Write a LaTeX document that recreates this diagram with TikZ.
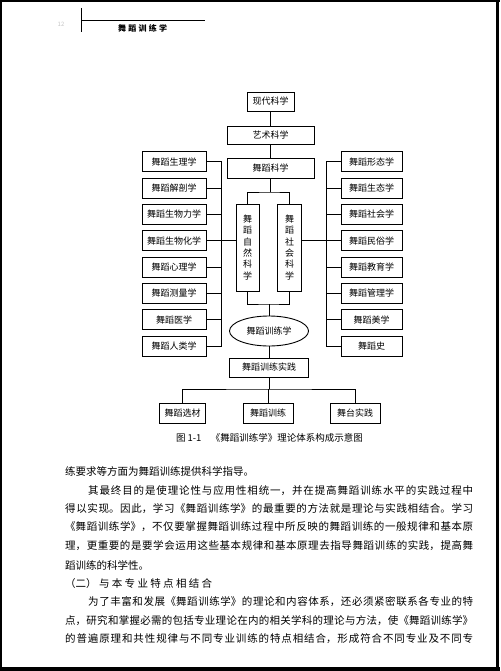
\documentclass[tikz,border=0pt]{standalone}
\usepackage{fontspec}
\setmainfont{Noto Sans CJK SC}
\usetikzlibrary{shapes.geometric}
\XeTeXlinebreaklocale "zh"
\XeTeXlinebreakskip=0pt plus 2pt minus 0.3pt
\tolerance=9000
\begin{document}
\begin{tikzpicture}[x=1pt,y=-1pt,
  box/.style={draw, line width=0.9pt, inner sep=0pt, minimum height=20pt, font=\fontsize{9}{11}\selectfont},
  vbox/.style={draw, line width=0.9pt, inner sep=0pt, minimum width=23pt, minimum height=87pt, align=center, font=\fontsize{9}{11.3}\selectfont},
  conn/.style={line width=0.7pt, line cap=rect},
  bodyline/.style={anchor=base west, inner sep=0pt, text width=#1, align=justify, font=\fontsize{10.5}{18}\selectfont},
  bodyrag/.style={anchor=base west, inner sep=0pt, font=\fontsize{10.5}{18}\selectfont}]
\useasboundingbox (0,0) rectangle (500,671);
\fill[white] (0,0) rectangle (500,671);
% page frame
\fill[black] (0,0) rectangle (1.8,671);
\fill[black] (0,0) rectangle (500,1.8);
\fill[black] (496.4,0) rectangle (499.2,671);
\fill[black] (0,667) rectangle (500,671);
% header
\draw[line width=0.6pt] (81,8) -- (81,32);
\draw[line width=0.6pt] (81,20.7) -- (205,20.7);
\node[anchor=base west, inner sep=0pt, text width=49pt, align=justify, font=\fontsize{8}{10}\selectfont\bfseries] (hdr) at (118,31.5) {\parfillskip=0pt\relax 舞蹈训练学\par};
\node[inner sep=0pt, text=gray!45, font=\fontsize{6}{7}\selectfont] (pg) at (61,24) {12};
% diagram
\node[box, minimum width=47pt, minimum height=19pt] (modern) at (270.5,101.5) {现代科学};
\node[box, minimum width=87pt, minimum height=18pt] (art) at (270.5,135) {艺术科学};
\node[box, minimum width=87pt] (dance) at (270.5,168) {舞蹈科学};
\node[vbox] (nat) at (247.5,247.5) {舞\\蹈\\自\\然\\科\\学};
\node[vbox, minimum width=23.5pt] (soc) at (289.5,247.5) {舞\\蹈\\社\\会\\科\\学};
\node[draw, ellipse, line width=0.9pt, inner sep=0pt, minimum width=79pt, minimum height=30pt, font=\fontsize{9}{11}\selectfont] (tr) at (269,331) {舞蹈训练学};
\node[box, minimum width=79pt, minimum height=19pt] (pr) at (269,367.5) {舞蹈训练实践};
\node[box, minimum width=46pt] (b1) at (182.5,413) {舞蹈选材};
\node[box, minimum width=50pt] (b2) at (268,413) {舞蹈训练};
\node[box, minimum width=50pt] (b3) at (355,413) {舞台实践};
\foreach \i/\t in {1/舞蹈生理学,2/舞蹈解剖学,3/舞蹈生物力学,4/舞蹈生物化学,5/舞蹈心理学,6/舞蹈测量学,7/舞蹈医学,8/舞蹈人类学}
  \node[box, minimum width=64pt] (L\i) at (174,{161.7+26.33*(\i-1)}) {\t};
\foreach \i/\t in {1/舞蹈形态学,2/舞蹈生态学,3/舞蹈社会学,4/舞蹈民俗学,5/舞蹈教育学,6/舞蹈管理学,7/舞蹈美学,8/舞蹈史}
  \node[box, minimum width=61pt] (R\i) at (371.5,{161.7+26.33*(\i-1)}) {\t};
\coordinate (lbusx) at (221.7,0);
\coordinate (rbusx) at (326.7,0);
\coordinate (split) at (270.5,192);
\coordinate (merge) at (269,304);
\coordinate (branch) at (269,389);
\draw[conn] (modern) -- (art);
\draw[conn] (art) -- (dance);
\draw[conn] (dance.south) -- (split);
\draw[conn] (nat.north) |- (split) -| (soc.north);
\draw[conn] (nat.south) |- (merge) -| (soc.south);
\draw[conn] (merge) -- (tr.north);
\draw[conn] (tr.south) -- (pr.north);
\draw[conn] (pr.south) -- (branch);
\draw[conn] (b1.north) |- (branch) -| (b3.north);
\draw[conn] (branch) -- (branch -| b2.north) -- (b2.north);
\foreach \i in {1,...,8} {
  \draw[conn] (L\i.east) -- (L\i.east -| lbusx);
  \draw[conn] (R\i.west) -- (R\i.west -| rbusx);
}
\draw[conn] (L1.east -| lbusx) -- (L8.east -| lbusx);
\draw[conn] (R1.west -| rbusx) -- (R8.west -| rbusx);
\draw[conn] (L4.east -| lbusx) -- (L4.east -| nat.west);
\draw[conn] (R4.west -| rbusx) -- (R4.west -| soc.east);
% caption
\node[inner sep=0pt, font=\fontsize{9.5}{11}\selectfont] (cap) at (269.5,438) {图 1-1\quad《舞蹈训练学》理论体系构成示意图};
% body text
\node[bodyrag] (t1) at (65,475.7) {练要求等方面为舞蹈训练提供科学指导。};
\node[bodyline=385pt] (t2) at (88,494) {\parfillskip=0pt\relax 其最终目的是使理论性与应用性相统一，并在提高舞蹈训练水平的实践过程中\par};
\node[bodyline=408pt] (t3) at (65,512.3) {\parfillskip=0pt\relax 得以实现。因此，学习《舞蹈训练学》的最重要的方法就是理论与实践相结合。学习\par};
\node[bodyline=408pt] (t4) at (65,530.7) {\parfillskip=0pt\relax 《舞蹈训练学》，不仅要掌握舞蹈训练过程中所反映的舞蹈训练的一般规律和基本原\par};
\node[bodyline=408pt] (t5) at (65,549) {\parfillskip=0pt\relax 理，更重要的是要学会运用这些基本规律和基本原理去指导舞蹈训练的实践，提高舞\par};
\node[bodyrag] (t6) at (65,569) {蹈训练的科学性。};
\node[bodyline=147pt] (t7) at (65,587.3) {\parfillskip=0pt\relax （二）与本专业特点相结合\par};
\node[bodyline=385pt] (t8) at (88,605.7) {\parfillskip=0pt\relax 为了丰富和发展《舞蹈训练学》的理论和内容体系，还必须紧密联系各专业的特\par};
\node[bodyline=408pt] (t9) at (65,624) {\parfillskip=0pt\relax 点，研究和掌握必需的包括专业理论在内的相关学科的理论与方法，使《舞蹈训练学》\par};
\node[bodyline=408pt] (t10) at (65,642.3) {\parfillskip=0pt\relax 的普遍原理和共性规律与不同专业训练的特点相结合，形成符合不同专业及不同专\par};
\end{tikzpicture}
\end{document}
